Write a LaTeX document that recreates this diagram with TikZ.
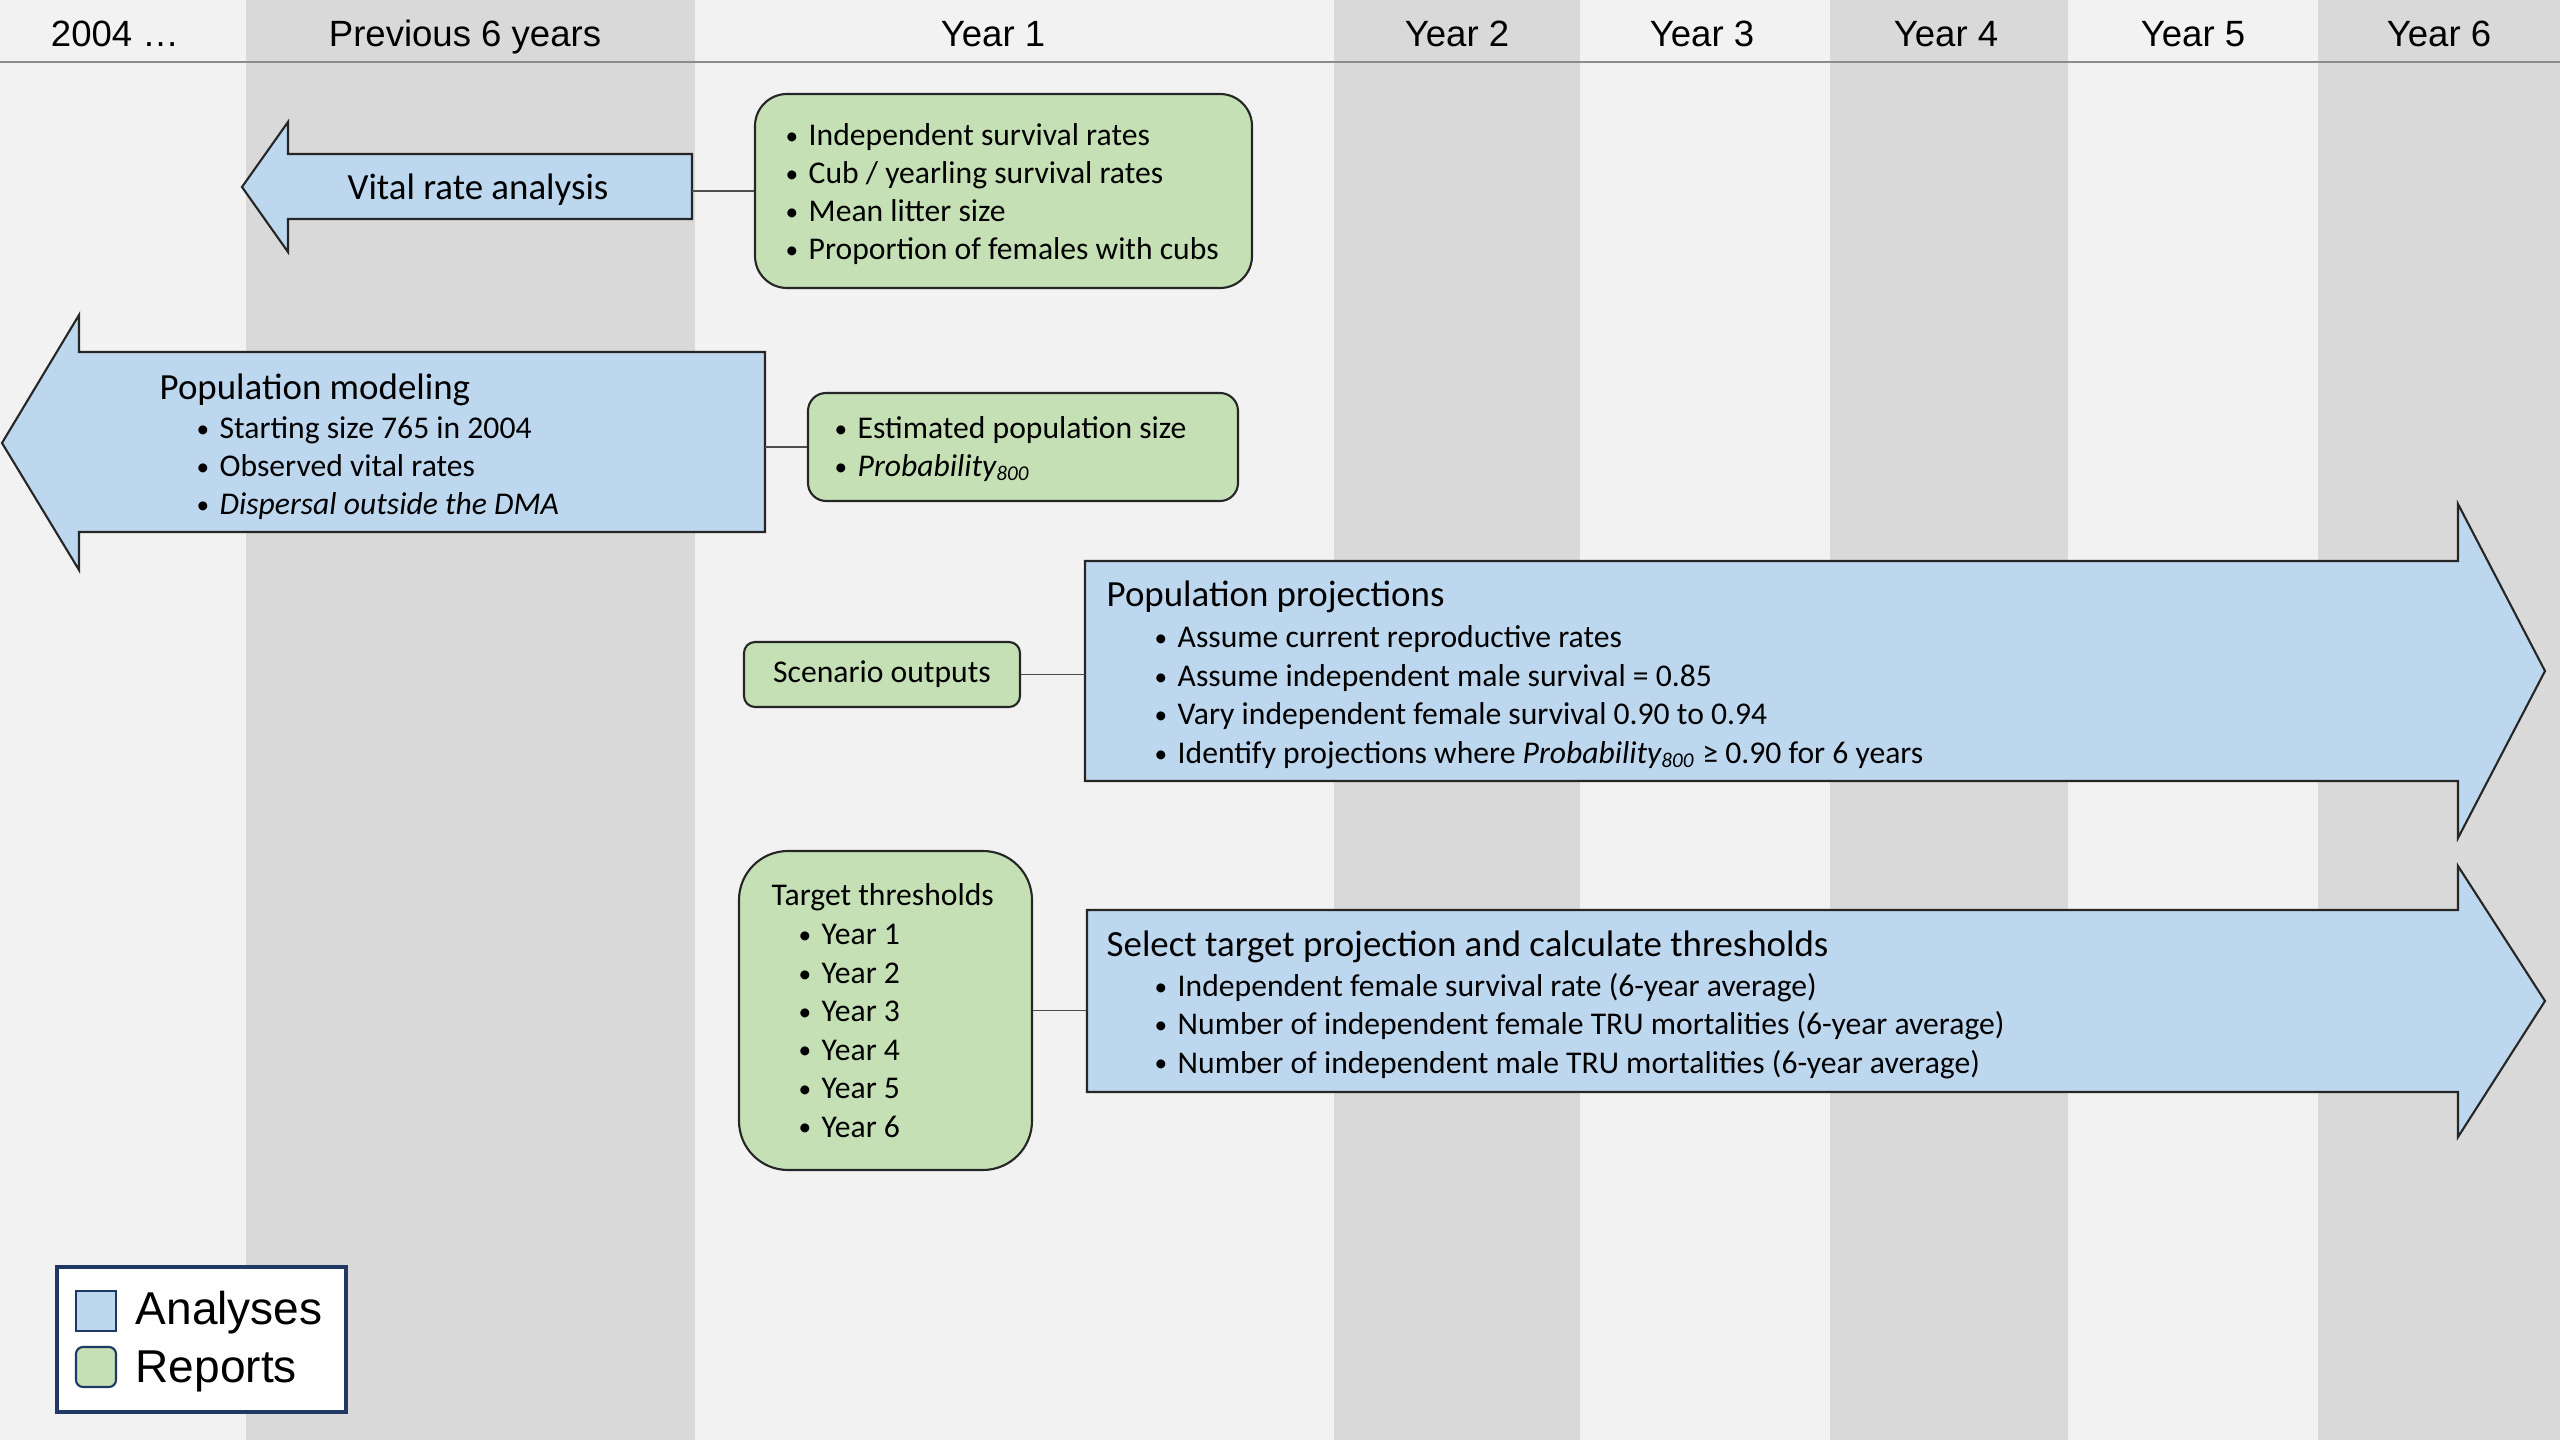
\documentclass[tikz,border=0pt]{standalone}
\usepackage{fontspec}
\setmainfont{Carlito}
\newfontfamily\hdrfont{Liberation Sans}

\definecolor{anablue}{HTML}{BDD7EE}
\definecolor{repgreen}{HTML}{C5E0B4}
\definecolor{bgpale}{HTML}{F2F2F2}
\definecolor{bgcol}{HTML}{D9D9D9}
\definecolor{navy}{HTML}{203864}

\newcommand{\bul}{\makebox[2mm][l]{\hspace*{-0.3mm}\raisebox{0.35pt}{\fontsize{7.2}{8}\selectfont\textbullet}}}

\begin{document}
\begin{tikzpicture}[x=0.1mm,y=-0.1mm,
  analysis/.style={draw=black!85,fill=anablue,line width=0.6pt},
  report/.style={draw=black!85,fill=repgreen,line width=0.6pt},
  link/.style={draw=black!70,line width=0.5pt},
  hdr/.style={font=\hdrfont\fontsize{10.4}{12.5}\selectfont,anchor=base,inner sep=0pt},
  ttl/.style={font=\fontsize{10.5}{12.6}\selectfont,anchor=base west,inner sep=0pt},
  itm/.style={font=\fontsize{9}{10.8}\selectfont,anchor=base west,inner sep=0pt},
  lgd/.style={font=\hdrfont\fontsize{13.1}{15.7}\selectfont,anchor=base west,inner sep=0pt}]

  % background, year columns and header
  \useasboundingbox (0,0) rectangle (2560,1440);
  \fill[bgpale] (0,0) rectangle (2560,1440);
  \foreach \a/\b in {246/695,1334/1580,1830/2068,2318/2560}
    \fill[bgcol] (\a,0) rectangle (\b,1440);
  \draw[black!45,line width=0.5pt] (0,62) -- (2560,62);
  \foreach \x/\t [count=\k] in {115/{2004 …},465/Previous 6 years,993/Year 1,1457/Year 2,
      1702/Year 3,1946/Year 4,2193/Year 5,2439/Year 6}
    \node[hdr] (hd\k) at (\x,47) {\t};

  % vital rates
  \draw[analysis] (692,154) -- (288,154) -- (288,122) -- (242,187) -- (288,252)
    -- (288,219) -- (692,219) -- cycle;
  \coordinate (vrend) at (692,187);
  \node[ttl,anchor=base] (vrtxt) at (478,200) {Vital rate analysis};
  \node[report,rounded corners=3.2mm,minimum width=49.7mm,minimum height=19.4mm]
    (vrbox) at (1003.5,191) {};
  \foreach \t [count=\k] in {Independent survival rates,Cub / yearling survival rates,
      Mean litter size,Proportion of females with cubs}
    \node[itm] (vr\k) at (788,{146+38*(\k-1)}) {\bul\t};
  \draw[link] (vrbox.west) -- (vrbox.west -| vrend);

  % population model
  \draw[analysis] (765,352) -- (79,352) -- (79,315) -- (2,443) -- (79,570)
    -- (79,532) -- (765,532) -- cycle;
  \coordinate (pmend) at (765,442);
  \node[ttl] (pmtxt) at (159,400) {Population modeling};
  \foreach \t [count=\k] in {Starting size 765 in 2004,Observed vital rates,
      \textit{Dispersal outside the DMA}}
    \node[itm] (pm\k) at (199,{439+38*(\k-1)}) {\bul\t};
  \node[report,rounded corners=1.8mm,minimum width=43mm,minimum height=10.8mm]
    (pmbox) at (1023,447) {};
  \foreach \t [count=\k] in {Estimated population size,\textit{Probability\textsubscript{800}}}
    \node[itm] (est\k) at (837,{439+38*(\k-1)}) {\bul\t};
  \draw[link] (pmbox.west) -- (pmbox.west -| pmend);

  % projections
  \draw[analysis] (1085,561) -- (2458,561) -- (2458,504) -- (2545,671) -- (2458,838)
    -- (2458,781) -- (1085,781) -- cycle;
  \coordinate (ppstart) at (1085,671);
  \node[ttl] (pptxt) at (1106,607) {Population projections};
  \foreach \t [count=\k] in {Assume current reproductive rates,
      Assume independent male survival = 0.85,
      Vary independent female survival 0.90 to 0.94,
      Identify projections where \textit{Probability\textsubscript{800}} ≥ 0.90 for 6 years}
    \node[itm] (pp\k) at (1157,{648+38.5*(\k-1)}) {\bul\t};
  \node[report,rounded corners=1.1mm,minimum width=27.6mm,minimum height=6.5mm,
    font=\fontsize{9}{10.8}\selectfont] (scbox) at (882,674.5) {Scenario outputs};
  \draw[link] (scbox.east) -- (scbox.east -| ppstart);

  % thresholds
  \draw[analysis] (1087,910) -- (2458,910) -- (2458,866) -- (2545,1001) -- (2458,1137)
    -- (2458,1092) -- (1087,1092) -- cycle;
  \coordinate (ststart) at (1087,1001);
  \node[ttl] (sttxt) at (1106,957) {Select target projection and calculate thresholds};
  \foreach \t [count=\k] in {Independent female survival rate (6-year average),
      Number of independent female TRU mortalities (6-year average),
      Number of independent male TRU mortalities (6-year average)}
    \node[itm] (st\k) at (1157,{997+38*(\k-1)}) {\bul\t};
  \node[report,rounded corners=4.9mm,minimum width=29.3mm,minimum height=31.9mm]
    (tgbox) at (885.5,1010.5) {};
  \node[itm] (tgtxt) at (771,906) {Target thresholds};
  \foreach \k in {1,...,6}
    \node[itm] (tg\k) at (801,{945+38.4*(\k-1)}) {\bul Year \k};
  \draw[link] (tgbox.east) -- (tgbox.east -| ststart);

  % legend
  \node[draw=navy,fill=white,line width=0.9pt,minimum width=28.9mm,minimum height=14.5mm]
    (legend) at (201.5,1339.5) {};
  \node[draw=navy,fill=anablue,line width=0.6pt,minimum size=4mm] (keyana) at (96,1311) {};
  \node[draw=navy,fill=repgreen,line width=0.6pt,minimum size=4mm,rounded corners=0.7mm]
    (keyrep) at (96,1367) {};
  \node[lgd] (keyanatxt) at (135,1325) {Analyses};
  \node[lgd] (keyreptxt) at (135,1382) {Reports};
\end{tikzpicture}
\end{document}
